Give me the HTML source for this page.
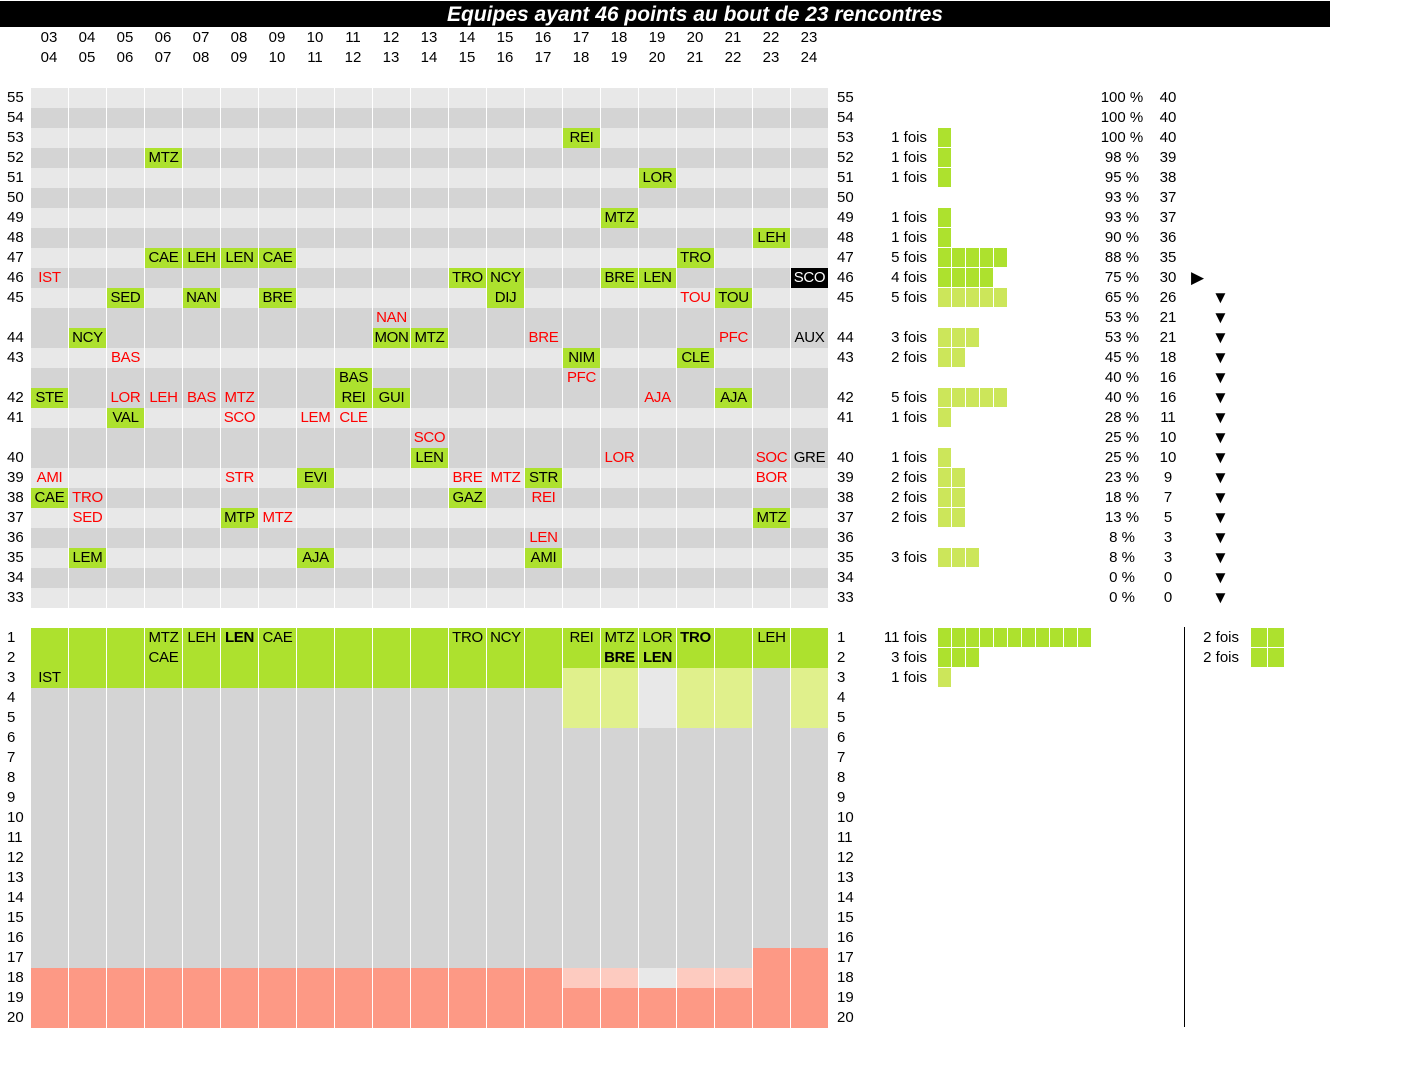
<!DOCTYPE html>
<html><head><meta charset="utf-8"><style>
body{margin:0;width:1426px;height:1076px;background:#fff;position:relative;overflow:hidden;font-family:"Liberation Sans",sans-serif;font-size:15px;color:#000}
div{position:absolute}
.bar{left:0;top:1px;width:1330px;height:26px;background:#000;color:#fff;font-weight:bold;font-style:italic;font-size:21px;line-height:27px;text-align:center;padding-left:60px;box-sizing:border-box}
.h{width:38px;text-align:center;line-height:20px}
.rl{left:7px;width:24px;line-height:20px}
.rr{left:837px;width:30px;line-height:20px}
.d{left:31px;width:798px;height:20px;background:#d4d4d4}
.l{left:31px;width:798px;height:20px;background:#e8e8e8}
.sep{background:repeating-linear-gradient(90deg,transparent 0 37px,#fff 37px 38px)}
.c{width:37px;height:20px;line-height:20px;text-align:center;letter-spacing:-0.3px}
.g{background:#ade12e}
.r{color:#f00}
.s{background:#000;color:#fff}
.b{font-weight:bold}
.f{left:850px;width:77px;text-align:right;line-height:20px}
.q{height:19px;background:repeating-linear-gradient(90deg,#ade12e 0 13px,#fff 13px 14px)}
.q2{height:19px;background:repeating-linear-gradient(90deg,#cce65a 0 13px,#fff 13px 14px)}
.p{left:1095px;width:54px;text-align:center;line-height:20px}
.n{left:1150px;width:36px;text-align:center;line-height:20px}
.tr{left:1212px;line-height:20px;font-size:17px}
</style></head><body>
<div class="bar">Equipes ayant 46 points au bout de 23 rencontres</div>
<div class="h" style="left:30px;top:28px">03</div><div class="h" style="left:30px;top:48px">04</div>
<div class="h" style="left:68px;top:28px">04</div><div class="h" style="left:68px;top:48px">05</div>
<div class="h" style="left:106px;top:28px">05</div><div class="h" style="left:106px;top:48px">06</div>
<div class="h" style="left:144px;top:28px">06</div><div class="h" style="left:144px;top:48px">07</div>
<div class="h" style="left:182px;top:28px">07</div><div class="h" style="left:182px;top:48px">08</div>
<div class="h" style="left:220px;top:28px">08</div><div class="h" style="left:220px;top:48px">09</div>
<div class="h" style="left:258px;top:28px">09</div><div class="h" style="left:258px;top:48px">10</div>
<div class="h" style="left:296px;top:28px">10</div><div class="h" style="left:296px;top:48px">11</div>
<div class="h" style="left:334px;top:28px">11</div><div class="h" style="left:334px;top:48px">12</div>
<div class="h" style="left:372px;top:28px">12</div><div class="h" style="left:372px;top:48px">13</div>
<div class="h" style="left:410px;top:28px">13</div><div class="h" style="left:410px;top:48px">14</div>
<div class="h" style="left:448px;top:28px">14</div><div class="h" style="left:448px;top:48px">15</div>
<div class="h" style="left:486px;top:28px">15</div><div class="h" style="left:486px;top:48px">16</div>
<div class="h" style="left:524px;top:28px">16</div><div class="h" style="left:524px;top:48px">17</div>
<div class="h" style="left:562px;top:28px">17</div><div class="h" style="left:562px;top:48px">18</div>
<div class="h" style="left:600px;top:28px">18</div><div class="h" style="left:600px;top:48px">19</div>
<div class="h" style="left:638px;top:28px">19</div><div class="h" style="left:638px;top:48px">20</div>
<div class="h" style="left:676px;top:28px">20</div><div class="h" style="left:676px;top:48px">21</div>
<div class="h" style="left:714px;top:28px">21</div><div class="h" style="left:714px;top:48px">22</div>
<div class="h" style="left:752px;top:28px">22</div><div class="h" style="left:752px;top:48px">23</div>
<div class="h" style="left:790px;top:28px">23</div><div class="h" style="left:790px;top:48px">24</div>

<div class="l" style="top:88px"></div><div class="d" style="top:108px"></div><div class="l" style="top:128px"></div><div class="d" style="top:148px"></div>
<div class="l" style="top:168px"></div><div class="d" style="top:188px"></div><div class="l" style="top:208px"></div><div class="d" style="top:228px"></div>
<div class="l" style="top:248px"></div><div class="d" style="top:268px"></div><div class="l" style="top:288px"></div><div class="d" style="top:308px"></div>
<div class="d" style="top:328px"></div><div class="l" style="top:348px"></div><div class="d" style="top:368px"></div><div class="d" style="top:388px"></div>
<div class="l" style="top:408px"></div><div class="d" style="top:428px"></div><div class="d" style="top:448px"></div><div class="l" style="top:468px"></div>
<div class="d" style="top:488px"></div><div class="l" style="top:508px"></div><div class="d" style="top:528px"></div><div class="l" style="top:548px"></div>
<div class="d" style="top:568px"></div><div class="l" style="top:588px"></div>
<div class="sep" style="left:31px;top:88px;width:798px;height:520px"></div>

<div class="rl" style="top:88px">55</div><div class="rr" style="top:88px">55</div>
<div class="rl" style="top:108px">54</div><div class="rr" style="top:108px">54</div>
<div class="rl" style="top:128px">53</div><div class="rr" style="top:128px">53</div>
<div class="rl" style="top:148px">52</div><div class="rr" style="top:148px">52</div>
<div class="rl" style="top:168px">51</div><div class="rr" style="top:168px">51</div>
<div class="rl" style="top:188px">50</div><div class="rr" style="top:188px">50</div>
<div class="rl" style="top:208px">49</div><div class="rr" style="top:208px">49</div>
<div class="rl" style="top:228px">48</div><div class="rr" style="top:228px">48</div>
<div class="rl" style="top:248px">47</div><div class="rr" style="top:248px">47</div>
<div class="rl" style="top:268px">46</div><div class="rr" style="top:268px">46</div>
<div class="rl" style="top:288px">45</div><div class="rr" style="top:288px">45</div>
<div class="rl" style="top:328px">44</div><div class="rr" style="top:328px">44</div>
<div class="rl" style="top:348px">43</div><div class="rr" style="top:348px">43</div>
<div class="rl" style="top:388px">42</div><div class="rr" style="top:388px">42</div>
<div class="rl" style="top:408px">41</div><div class="rr" style="top:408px">41</div>
<div class="rl" style="top:448px">40</div><div class="rr" style="top:448px">40</div>
<div class="rl" style="top:468px">39</div><div class="rr" style="top:468px">39</div>
<div class="rl" style="top:488px">38</div><div class="rr" style="top:488px">38</div>
<div class="rl" style="top:508px">37</div><div class="rr" style="top:508px">37</div>
<div class="rl" style="top:528px">36</div><div class="rr" style="top:528px">36</div>
<div class="rl" style="top:548px">35</div><div class="rr" style="top:548px">35</div>
<div class="rl" style="top:568px">34</div><div class="rr" style="top:568px">34</div>
<div class="rl" style="top:588px">33</div><div class="rr" style="top:588px">33</div>

<div class="c g" style="left:563px;top:128px">REI</div>
<div class="c g" style="left:145px;top:148px">MTZ</div>
<div class="c g" style="left:639px;top:168px">LOR</div>
<div class="c g" style="left:601px;top:208px">MTZ</div>
<div class="c g" style="left:753px;top:228px">LEH</div>
<div class="c g" style="left:145px;top:248px">CAE</div><div class="c g" style="left:183px;top:248px">LEH</div><div class="c g" style="left:221px;top:248px">LEN</div><div class="c g" style="left:259px;top:248px">CAE</div><div class="c g" style="left:677px;top:248px">TRO</div>
<div class="c r" style="left:31px;top:268px">IST</div><div class="c g" style="left:449px;top:268px">TRO</div><div class="c g" style="left:487px;top:268px">NCY</div><div class="c g" style="left:601px;top:268px">BRE</div><div class="c g" style="left:639px;top:268px">LEN</div><div class="c s" style="left:791px;top:268px">SCO</div>
<div class="c g" style="left:107px;top:288px">SED</div><div class="c g" style="left:183px;top:288px">NAN</div><div class="c g" style="left:259px;top:288px">BRE</div><div class="c g" style="left:487px;top:288px">DIJ</div><div class="c r" style="left:677px;top:288px">TOU</div><div class="c g" style="left:715px;top:288px">TOU</div>
<div class="c r" style="left:373px;top:308px">NAN</div>
<div class="c g" style="left:69px;top:328px">NCY</div><div class="c g" style="left:373px;top:328px">MON</div><div class="c g" style="left:411px;top:328px">MTZ</div><div class="c r" style="left:525px;top:328px">BRE</div><div class="c r" style="left:715px;top:328px">PFC</div><div class="c" style="left:791px;top:328px">AUX</div>
<div class="c r" style="left:107px;top:348px">BAS</div><div class="c g" style="left:563px;top:348px">NIM</div><div class="c g" style="left:677px;top:348px">CLE</div>
<div class="c g" style="left:335px;top:368px">BAS</div><div class="c r" style="left:563px;top:368px">PFC</div>
<div class="c g" style="left:31px;top:388px">STE</div><div class="c r" style="left:107px;top:388px">LOR</div><div class="c r" style="left:145px;top:388px">LEH</div><div class="c r" style="left:183px;top:388px">BAS</div><div class="c r" style="left:221px;top:388px">MTZ</div><div class="c g" style="left:335px;top:388px">REI</div><div class="c g" style="left:373px;top:388px">GUI</div><div class="c r" style="left:639px;top:388px">AJA</div><div class="c g" style="left:715px;top:388px">AJA</div>
<div class="c g" style="left:107px;top:408px">VAL</div><div class="c r" style="left:221px;top:408px">SCO</div><div class="c r" style="left:297px;top:408px">LEM</div><div class="c r" style="left:335px;top:408px">CLE</div>
<div class="c r" style="left:411px;top:428px">SCO</div>
<div class="c g" style="left:411px;top:448px">LEN</div><div class="c r" style="left:601px;top:448px">LOR</div><div class="c r" style="left:753px;top:448px">SOC</div><div class="c" style="left:791px;top:448px">GRE</div>
<div class="c r" style="left:31px;top:468px">AMI</div><div class="c r" style="left:221px;top:468px">STR</div><div class="c g" style="left:297px;top:468px">EVI</div><div class="c r" style="left:449px;top:468px">BRE</div><div class="c r" style="left:487px;top:468px">MTZ</div><div class="c g" style="left:525px;top:468px">STR</div><div class="c r" style="left:753px;top:468px">BOR</div>
<div class="c g" style="left:31px;top:488px">CAE</div><div class="c r" style="left:69px;top:488px">TRO</div><div class="c g" style="left:449px;top:488px">GAZ</div><div class="c r" style="left:525px;top:488px">REI</div>
<div class="c r" style="left:69px;top:508px">SED</div><div class="c g" style="left:221px;top:508px">MTP</div><div class="c r" style="left:259px;top:508px">MTZ</div><div class="c g" style="left:753px;top:508px">MTZ</div>
<div class="c r" style="left:525px;top:528px">LEN</div>
<div class="c g" style="left:69px;top:548px">LEM</div><div class="c g" style="left:297px;top:548px">AJA</div><div class="c g" style="left:525px;top:548px">AMI</div>

<div class="f" style="top:128px">1 fois</div><div class="q" style="left:938px;top:128px;width:13px"></div>
<div class="f" style="top:148px">1 fois</div><div class="q" style="left:938px;top:148px;width:13px"></div>
<div class="f" style="top:168px">1 fois</div><div class="q" style="left:938px;top:168px;width:13px"></div>
<div class="f" style="top:208px">1 fois</div><div class="q" style="left:938px;top:208px;width:13px"></div>
<div class="f" style="top:228px">1 fois</div><div class="q" style="left:938px;top:228px;width:13px"></div>
<div class="f" style="top:248px">5 fois</div><div class="q" style="left:938px;top:248px;width:69px"></div>
<div class="f" style="top:268px">4 fois</div><div class="q" style="left:938px;top:268px;width:55px"></div>
<div class="f" style="top:288px">5 fois</div><div class="q2" style="left:938px;top:288px;width:69px"></div>
<div class="f" style="top:328px">3 fois</div><div class="q2" style="left:938px;top:328px;width:41px"></div>
<div class="f" style="top:348px">2 fois</div><div class="q2" style="left:938px;top:348px;width:27px"></div>
<div class="f" style="top:388px">5 fois</div><div class="q2" style="left:938px;top:388px;width:69px"></div>
<div class="f" style="top:408px">1 fois</div><div class="q2" style="left:938px;top:408px;width:13px"></div>
<div class="f" style="top:448px">1 fois</div><div class="q2" style="left:938px;top:448px;width:13px"></div>
<div class="f" style="top:468px">2 fois</div><div class="q2" style="left:938px;top:468px;width:27px"></div>
<div class="f" style="top:488px">2 fois</div><div class="q2" style="left:938px;top:488px;width:27px"></div>
<div class="f" style="top:508px">2 fois</div><div class="q2" style="left:938px;top:508px;width:27px"></div>
<div class="f" style="top:548px">3 fois</div><div class="q2" style="left:938px;top:548px;width:41px"></div>

<div class="p" style="top:88px">100 %</div><div class="n" style="top:88px">40</div>
<div class="p" style="top:108px">100 %</div><div class="n" style="top:108px">40</div>
<div class="p" style="top:128px">100 %</div><div class="n" style="top:128px">40</div>
<div class="p" style="top:148px">98 %</div><div class="n" style="top:148px">39</div>
<div class="p" style="top:168px">95 %</div><div class="n" style="top:168px">38</div>
<div class="p" style="top:188px">93 %</div><div class="n" style="top:188px">37</div>
<div class="p" style="top:208px">93 %</div><div class="n" style="top:208px">37</div>
<div class="p" style="top:228px">90 %</div><div class="n" style="top:228px">36</div>
<div class="p" style="top:248px">88 %</div><div class="n" style="top:248px">35</div>
<div class="p" style="top:268px">75 %</div><div class="n" style="top:268px">30</div><div class="tr" style="top:268px;left:1191px">▶</div>
<div class="p" style="top:288px">65 %</div><div class="n" style="top:288px">26</div><div class="tr" style="top:288px">▼</div>
<div class="p" style="top:308px">53 %</div><div class="n" style="top:308px">21</div><div class="tr" style="top:308px">▼</div>
<div class="p" style="top:328px">53 %</div><div class="n" style="top:328px">21</div><div class="tr" style="top:328px">▼</div>
<div class="p" style="top:348px">45 %</div><div class="n" style="top:348px">18</div><div class="tr" style="top:348px">▼</div>
<div class="p" style="top:368px">40 %</div><div class="n" style="top:368px">16</div><div class="tr" style="top:368px">▼</div>
<div class="p" style="top:388px">40 %</div><div class="n" style="top:388px">16</div><div class="tr" style="top:388px">▼</div>
<div class="p" style="top:408px">28 %</div><div class="n" style="top:408px">11</div><div class="tr" style="top:408px">▼</div>
<div class="p" style="top:428px">25 %</div><div class="n" style="top:428px">10</div><div class="tr" style="top:428px">▼</div>
<div class="p" style="top:448px">25 %</div><div class="n" style="top:448px">10</div><div class="tr" style="top:448px">▼</div>
<div class="p" style="top:468px">23 %</div><div class="n" style="top:468px">9</div><div class="tr" style="top:468px">▼</div>
<div class="p" style="top:488px">18 %</div><div class="n" style="top:488px">7</div><div class="tr" style="top:488px">▼</div>
<div class="p" style="top:508px">13 %</div><div class="n" style="top:508px">5</div><div class="tr" style="top:508px">▼</div>
<div class="p" style="top:528px">8 %</div><div class="n" style="top:528px">3</div><div class="tr" style="top:528px">▼</div>
<div class="p" style="top:548px">8 %</div><div class="n" style="top:548px">3</div><div class="tr" style="top:548px">▼</div>
<div class="p" style="top:568px">0 %</div><div class="n" style="top:568px">0</div><div class="tr" style="top:568px">▼</div>
<div class="p" style="top:588px">0 %</div><div class="n" style="top:588px">0</div><div class="tr" style="top:588px">▼</div>

<div style="left:31px;top:628px;width:798px;height:400px;background:#d4d4d4"></div>
<div style="left:31px;top:628px;width:532px;height:60px;background:#ade12e"></div>
<div style="left:563px;top:628px;width:266px;height:40px;background:#ade12e"></div>
<div style="left:563px;top:668px;width:76px;height:60px;background:#e0f08c"></div>
<div style="left:639px;top:668px;width:38px;height:60px;background:#e8e8e8"></div>
<div style="left:677px;top:668px;width:76px;height:60px;background:#e0f08c"></div>
<div style="left:791px;top:668px;width:38px;height:60px;background:#e0f08c"></div>
<div style="left:31px;top:968px;width:532px;height:60px;background:#fd9985"></div>
<div style="left:563px;top:968px;width:76px;height:20px;background:#fdcbc0"></div>
<div style="left:639px;top:968px;width:38px;height:20px;background:#e8e8e8"></div>
<div style="left:677px;top:968px;width:76px;height:20px;background:#fdcbc0"></div>
<div style="left:563px;top:988px;width:190px;height:40px;background:#fd9985"></div>
<div style="left:753px;top:948px;width:76px;height:80px;background:#fd9985"></div>
<div class="sep" style="left:31px;top:628px;width:798px;height:400px"></div>

<div class="c" style="left:145px;top:628px">MTZ</div><div class="c" style="left:145px;top:648px">CAE</div>
<div class="c" style="left:31px;top:668px">IST</div>
<div class="c" style="left:183px;top:628px">LEH</div>
<div class="c b" style="left:221px;top:628px">LEN</div>
<div class="c" style="left:259px;top:628px">CAE</div>
<div class="c" style="left:449px;top:628px">TRO</div>
<div class="c" style="left:487px;top:628px">NCY</div>
<div class="c" style="left:563px;top:628px">REI</div>
<div class="c" style="left:601px;top:628px">MTZ</div><div class="c b" style="left:601px;top:648px">BRE</div>
<div class="c" style="left:639px;top:628px">LOR</div><div class="c b" style="left:639px;top:648px">LEN</div>
<div class="c b" style="left:677px;top:628px">TRO</div>
<div class="c" style="left:753px;top:628px">LEH</div>

<div class="rl" style="top:628px">1</div><div class="rr" style="top:628px">1</div>
<div class="rl" style="top:648px">2</div><div class="rr" style="top:648px">2</div>
<div class="rl" style="top:668px">3</div><div class="rr" style="top:668px">3</div>
<div class="rl" style="top:688px">4</div><div class="rr" style="top:688px">4</div>
<div class="rl" style="top:708px">5</div><div class="rr" style="top:708px">5</div>
<div class="rl" style="top:728px">6</div><div class="rr" style="top:728px">6</div>
<div class="rl" style="top:748px">7</div><div class="rr" style="top:748px">7</div>
<div class="rl" style="top:768px">8</div><div class="rr" style="top:768px">8</div>
<div class="rl" style="top:788px">9</div><div class="rr" style="top:788px">9</div>
<div class="rl" style="top:808px">10</div><div class="rr" style="top:808px">10</div>
<div class="rl" style="top:828px">11</div><div class="rr" style="top:828px">11</div>
<div class="rl" style="top:848px">12</div><div class="rr" style="top:848px">12</div>
<div class="rl" style="top:868px">13</div><div class="rr" style="top:868px">13</div>
<div class="rl" style="top:888px">14</div><div class="rr" style="top:888px">14</div>
<div class="rl" style="top:908px">15</div><div class="rr" style="top:908px">15</div>
<div class="rl" style="top:928px">16</div><div class="rr" style="top:928px">16</div>
<div class="rl" style="top:948px">17</div><div class="rr" style="top:948px">17</div>
<div class="rl" style="top:968px">18</div><div class="rr" style="top:968px">18</div>
<div class="rl" style="top:988px">19</div><div class="rr" style="top:988px">19</div>
<div class="rl" style="top:1008px">20</div><div class="rr" style="top:1008px">20</div>

<div class="f" style="top:628px">11 fois</div><div class="q" style="left:938px;top:628px;width:153px"></div>
<div class="f" style="top:648px">3 fois</div><div class="q" style="left:938px;top:648px;width:41px"></div>
<div class="f" style="top:668px">1 fois</div><div class="q2" style="left:938px;top:668px;width:13px"></div>
<div style="left:1184px;top:627px;width:1px;height:400px;background:#000"></div>
<div class="f" style="left:1162px;top:628px">2 fois</div>
<div class="f" style="left:1162px;top:648px">2 fois</div>
<div style="left:1251px;top:628px;width:33px;height:19px;background:repeating-linear-gradient(90deg,#ade12e 0 16px,#fff 16px 17px)"></div>
<div style="left:1251px;top:648px;width:33px;height:19px;background:repeating-linear-gradient(90deg,#ade12e 0 16px,#fff 16px 17px)"></div>
</body></html>
